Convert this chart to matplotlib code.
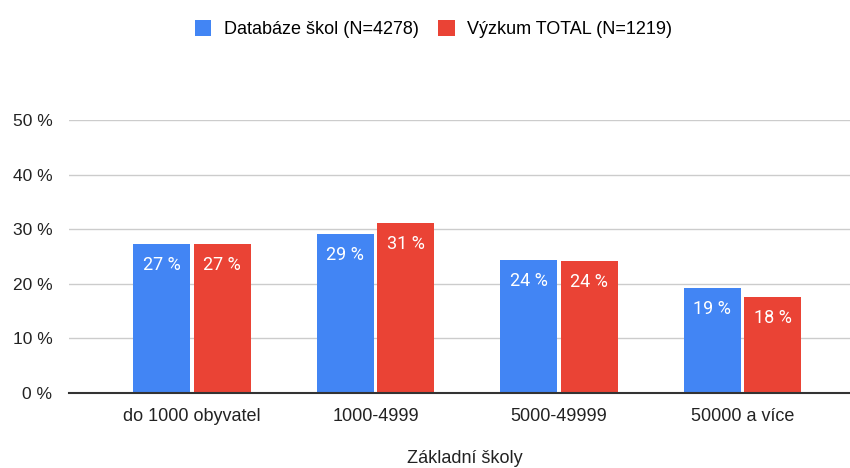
import numpy as np
import matplotlib
matplotlib.use("Agg")
from matplotlib import pyplot as plt

categories = ["do 1000 obyvatel", "1000-4999", "5000-49999", "50000 a více"]
databaze = [27.3, 29.2, 24.4, 19.3]
vyzkum = [27.3, 31.2, 24.2, 17.6]
series_names = ["Databáze škol (N=4278)", "Výzkum TOTAL (N=1219)"]
yticks = [0, 10, 20, 30, 40, 50]

BLUE = "#4285f4"
RED = "#ea4335"

plt.rcParams['font.family'] = ['Liberation Sans', 'DejaVu Sans']

fig = plt.figure(figsize=(8.5, 4.68), dpi=100)
ax = fig.add_axes([69 / 850, (468 - 393) / 468, (850 - 69) / 850, (393 - 120) / 468 * 1.0])

x = np.arange(len(categories))
w = 0.31
gap = 0.009
b1 = ax.bar(x - w / 2 - gap, databaze, w, color=BLUE, zorder=3)
b2 = ax.bar(x + w / 2 + gap, vyzkum, w, color=RED, zorder=3)

for bars in (b1, b2):
    for r in bars:
        ax.text(r.get_x() + r.get_width() / 2, r.get_height() - 2.2,
                "%d %%" % round(r.get_height()), ha="center", va="top",
                color="white", fontsize=13, family="Roboto", zorder=4)

ax.set_xlim((69 - 192) / 183.5, (850 - 192) / 183.5)
ax.set_ylim(0, 50)
ax.set_yticks(yticks)
ax.set_yticklabels(["%d %%" % v for v in yticks], fontsize=12.5, color="#222222")
ax.set_xticks(x)
ax.set_xticklabels(categories, fontsize=13, color="#222222")
ax.tick_params(axis="x", length=0, pad=11)
ax.tick_params(axis="y", length=0, pad=12)
ax.grid(axis="y", color="#cccccc", linewidth=1, zorder=0)
for s in ["top", "right", "left"]:
    ax.spines[s].set_visible(False)
ax.spines["bottom"].set_color("#333333")
ax.spines["bottom"].set_linewidth(1.5)
ax.spines["bottom"].set_zorder(5)

fig.text(465 / 850, 1 / 468, "Základní školy", ha="center", va="bottom",
         fontsize=13, color="#222222")

fig.legend([b1, b2], series_names, loc="upper center", bbox_to_anchor=(0.51, 1.0),
           ncol=2, frameon=False, fontsize=13, handlelength=0.9, handleheight=1.0,
           columnspacing=1.1, handletextpad=0.7, borderaxespad=0.7)

fig.savefig("out.png", dpi=100)
